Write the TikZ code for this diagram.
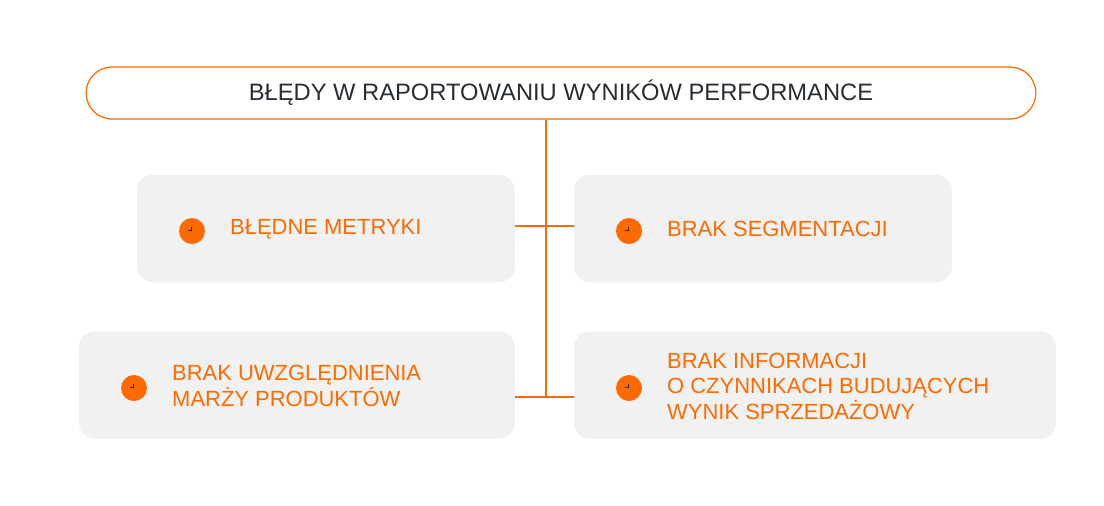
\documentclass[tikz,border=0pt]{standalone}
\usepackage{fontspec}
\setmainfont{Liberation Sans}
\usetikzlibrary{positioning,arrows.meta}
\definecolor{accent}{RGB}{255,106,0}
\definecolor{panel}{RGB}{241,241,241}
\definecolor{ink}{RGB}{40,44,52}
\tikzset{block/.style={fill=panel,rounded corners=9pt,minimum height=2.15cm},
         item/.style={text=accent,font=\fontsize{12.5}{14.5}\selectfont,align=left,anchor=west},
         icon/.style={circle,fill=accent,minimum size=0.52cm,inner sep=0pt},
         line/.style={accent,line width=0.6pt}
}
\newcommand{\tip}[1]{\draw[ink,line width=0.8pt,-{Straight Barb[length=1.5pt]}] ([shift={(-0.07,-0.07)}]#1.center) -- ([shift={(0.07,0.07)}]#1.center);}
\begin{document}
\begin{tikzpicture}[x=0.02cm,y=-0.02cm]
  \useasboundingbox (0,0) rectangle (1104,505);
  \node[draw=accent,line width=0.7pt,rounded corners=0.52cm,minimum width=19cm,minimum height=1.04cm,
        text=ink,font=\fontsize{13.5}{16}\selectfont] (title) at (561,93) {BŁĘDY W RAPORTOWANIU WYNIKÓW PERFORMANCE};
  \node[block,minimum width=7.56cm] (b1) at (326,228.5) {};
  \node[block,minimum width=7.56cm] (b2) at (763,228.5) {};
  \node[block,minimum width=8.72cm] (b3) at (297,385) {};
  \node[block,minimum width=9.64cm] (b4) at (815,385) {};
  % icons and labels
  \node[icon] (i1) at (192,231) {}; \tip{i1}
  \node[icon] (i2) at (629,231) {}; \tip{i2}
  \node[icon] (i3) at (134,388) {}; \tip{i3}
  \node[icon] (i4) at (629,388) {}; \tip{i4}
  \node[item] (t1) at (224,229) {BŁĘDNE METRYKI};
  \node[item] (t2) at (661,229) {BRAK SEGMENTACJI};
  \node[item] (t3) at (166,386) {BRAK UWZGLĘDNIENIA\\MARŻY PRODUKTÓW};
  \node[item] (t4) at (661,386) {BRAK INFORMACJI\\O CZYNNIKACH BUDUJĄCYCH\\WYNIK SPRZEDAŻOWY};
  % connectors
  \coordinate (j1) at (546,226);
  \coordinate (j2) at (546,397);
  \draw[line] (title.south -| j1) -- (j2);
  \draw[line] (b1.east |- j1) -- (b2.west |- j1);
  \draw[line] (b3.east |- j2) -- (b4.west |- j2);
\end{tikzpicture}
\end{document}
